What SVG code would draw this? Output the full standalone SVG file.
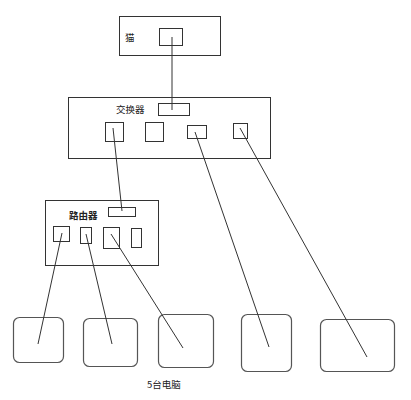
<svg xmlns="http://www.w3.org/2000/svg" width="411" height="400" viewBox="0 0 411 400">
<style>
rect{fill:none;stroke:#333;stroke-width:1}
.c{rx:6;ry:6;stroke:#555;stroke-width:1.2}
line{stroke:#333;stroke-width:1}
text{font-family:"Noto Sans CJK SC","Liberation Sans",sans-serif;font-size:9.5px;fill:#222}
</style>
<rect x="0" y="0" width="411" height="400" style="fill:#fff;stroke:none"/>
<g id="cat">
<rect x="119.5" y="16.5" width="101" height="39"/>
<rect x="159.5" y="28.5" width="23" height="17"/>
<text x="125" y="41">猫</text>
</g>
<g id="switch">
<rect x="68.5" y="97.5" width="202" height="61"/>
<rect x="158.5" y="103.5" width="31" height="12"/>
<text x="116" y="113">交换器</text>
<rect x="105.5" y="122.5" width="18" height="19"/>
<rect x="145.5" y="122.5" width="18" height="19"/>
<rect x="187.5" y="125.5" width="19" height="13"/>
<rect x="233.5" y="123.5" width="14" height="15"/>
</g>
<g id="router">
<rect x="45.5" y="200.5" width="113" height="65"/>
<rect x="108.5" y="207.5" width="27" height="9"/>
<text x="69" y="219" style="font-weight:bold">路由器</text>
<rect x="53.5" y="226.5" width="16" height="15"/>
<rect x="80.5" y="227.5" width="11" height="16"/>
<rect x="103.5" y="227.5" width="16" height="21"/>
<rect x="131.5" y="228.5" width="10" height="19"/>
</g>
<g id="pc1"><rect class="c" x="13.5" y="317.5" width="50" height="45"/></g>
<g id="pc2"><rect class="c" x="83.5" y="318.5" width="54" height="48"/></g>
<g id="pc3"><rect class="c" x="158.5" y="314.5" width="55" height="53"/></g>
<g id="pc4"><rect class="c" x="241.5" y="314.5" width="50" height="57"/></g>
<g id="pc5"><rect class="c" x="320.5" y="319.5" width="74" height="52"/></g>
<text x="147" y="388">5台电脑</text>
<g id="connectors">
<line x1="172" y1="37" x2="172" y2="110"/>
<line x1="113" y1="128" x2="122" y2="211"/>
<line x1="195" y1="132" x2="269" y2="347"/>
<line x1="240" y1="128" x2="367" y2="357"/>
<line x1="62" y1="233" x2="38" y2="344"/>
<line x1="86" y1="234" x2="112" y2="344"/>
<line x1="111" y1="234" x2="183" y2="348"/>
</g>
</svg>
